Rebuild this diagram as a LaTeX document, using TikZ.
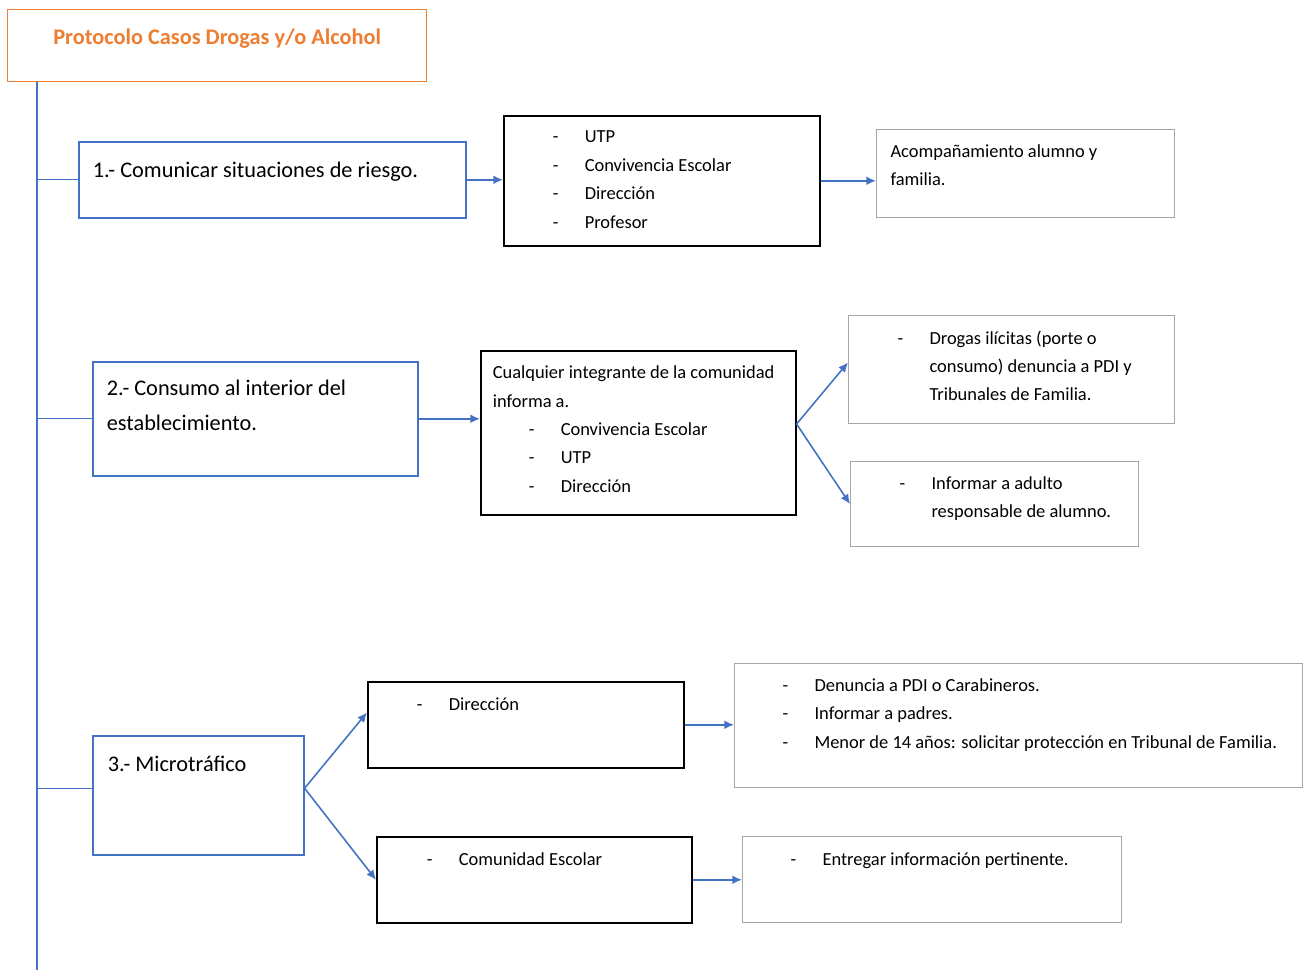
\documentclass[tikz,border=0pt]{standalone}
\usepackage{fontspec}
\setmainfont{Carlito}
\usetikzlibrary{shapes,arrows,arrows.meta,positioning}

\definecolor{lineblue}{HTML}{4472C4}
\definecolor{boxgrey}{HTML}{A6A6A6}
\definecolor{titleorange}{HTML}{ED7D31}

\newdimen\pxu \pxu=0.02cm
\newcommand{\bodyfont}{\fontsize{10.5}{16.2}\selectfont}
\newcommand{\bigfont}{\fontsize{12.7}{19.9}\selectfont}
\newcommand{\titlefont}{\fontsize{12.7}{15}\selectfont\bfseries}
\newcommand{\dsh}{\leavevmode\llap{\makebox[32\pxu][l]{-}}}
% width, height, left pad, top pad, text
\newcommand{\boxtxt}[5]{\parbox[c][#2\pxu][t]{#1\pxu}{\vspace*{#4\pxu}\raggedright\leftskip=#3\pxu\relax #5\par}}

\tikzset{
  box/.style={draw, rectangle, anchor=north west, inner sep=0pt, font=\bodyfont},
  titlebox/.style={box, draw=titleorange, line width=0.7pt, text=titleorange, font=\titlefont},
  bluebox/.style={box, draw=lineblue, line width=0.9pt, font=\bigfont},
  blackbox/.style={box, draw=black, line width=0.9pt},
  greybox/.style={box, draw=boxgrey, line width=0.6pt},
  trunk/.style={draw=lineblue, line width=0.8pt},
  arr/.style={-{Latex[length=5.5pt,width=5pt]}, draw=lineblue, fill=lineblue, line width=0.9pt},
}

\begin{document}
\begin{tikzpicture}[x=0.02cm, y=-0.02cm]
\useasboundingbox (0,0) rectangle (1303,970);
%Title
\node[titlebox] (title) at (7,9) {\boxtxt{419}{72}{0}{19}{\centering Protocolo Casos Drogas y/o Alcohol}};

% 1.- Comunicar
\node[bluebox] (b1) at (78,141) {\boxtxt{387}{76}{14}{20}{1.- Comunicar situaciones de riesgo.}};
\node[blackbox] (b1b) at (503,115) {\boxtxt{316}{130}{81}{15}{\dsh UTP\\ \dsh Convivencia Escolar\\ \dsh Dirección\\ \dsh Profesor}};
\node[greybox] (b1c) at (876,129) {\boxtxt{298}{88}{14}{15}{Acompañamiento alumno y\\ familia.}};

% 2.- Consumo
\node[bluebox] (b2) at (92,361) {\boxtxt{325}{114}{14}{18}{2.- Consumo al interior del\\ establecimiento.}};
\node[blackbox] (b2b) at (480,350) {\boxtxt{315}{164}{12}{15}{Cualquier integrante de la comunidad\\ informa a.\\
  \hspace*{68\pxu}\dsh Convivencia Escolar\\ \hspace*{68\pxu}\dsh UTP\\ \hspace*{68\pxu}\dsh Dirección}};
\node[greybox] (b2c) at (848,315) {\boxtxt{326}{108}{81}{15}{\dsh Drogas ilícitas (porte o\\ consumo) denuncia a PDI y\\ Tribunales de Familia.}};
\node[greybox] (b2d) at (850,461) {\boxtxt{288}{85}{81}{15}{\dsh Informar a adulto\\ responsable de alumno.}};

% 3.- Microtrafico
\node[bluebox] (b3) at (92,735) {\boxtxt{211}{119}{15}{20}{3.- Microtráfico}};
\node[blackbox] (b3a) at (367,681) {\boxtxt{316}{86}{81}{16}{\dsh Dirección}};
\node[greybox] (b3b) at (734,663) {\boxtxt{568}{124}{80}{15}{\dsh Denuncia a PDI o Carabineros.\\ \dsh Informar a padres.\\ \dsh Menor de 14 años: solicitar protección en Tribunal de Familia.}};
\node[blackbox] (b3c) at (376,836) {\boxtxt{315}{86}{82}{16}{\dsh Comunidad Escolar}};
\node[greybox] (b3d) at (742,836) {\boxtxt{379}{86}{80}{16}{\dsh Entregar información pertinente.}};

%% Lines
\coordinate (trunkend) at (37,970);
\draw[trunk] (trunkend |- title.south) -- (trunkend);
\draw[trunk] (b1.west) -- (b1.west -| trunkend);
\draw[trunk] (b2.west) -- (b2.west -| trunkend);
\draw[trunk] ([yshift=4pt]b3.west) -- ([yshift=4pt]b3.west -| trunkend);

%% Arrows
\draw[arr] (b1.east) -- (b1.east -| b1b.west);
\draw[arr] (b1b.east) -- (b1b.east -| b1c.west);
\draw[arr] (b2.east) -- (b2.east -| b2b.west);
\draw[arr] ([yshift=5pt]b2b.east) -- ([yshift=4pt]b2c.west);
\draw[arr] ([yshift=5pt]b2b.east) -- (b2d.west);
\draw[arr] ([yshift=4pt]b3.east) -- ([yshift=7pt]b3a.west);
\draw[arr] ([yshift=4pt]b3.east) -- (b3c.west);
\draw[arr] (b3a.east) -- (b3a.east -| b3b.west);
\draw[arr] (b3c.east) -- (b3c.east -| b3d.west);

\end{tikzpicture}
\end{document}
